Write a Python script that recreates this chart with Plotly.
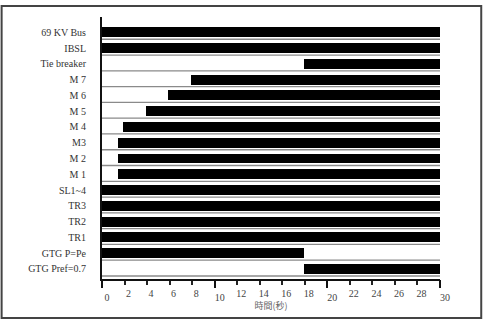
import plotly.graph_objects as go

# ---- data ----
signals = ["69 KV Bus", "IBSL", "Tie breaker", "M 7", "M 6", "M 5", "M 4", "M3",
           "M 2", "M 1", "SL1~4", "TR3", "TR2", "TR1", "GTG P=Pe", "GTG Pref=0.7"]
on_start = [0, 0, 17.9, 7.9, 5.9, 3.9, 1.9, 1.4, 1.4, 1.4, 0, 0, 0, 0, 0, 17.9]
on_end = [30, 30, 30, 30, 30, 30, 30, 30, 30, 30, 30, 30, 30, 30, 17.9, 30]
t_min, t_max = 0, 30
minor_ticks = [2, 4, 6, 8, 12, 14, 16, 18, 22, 24, 26, 28]
major_ticks = [0, 10, 20, 30]
x_title = "時間(秒)"

n = len(signals)
base = [n - 1 - i for i in range(n)]
BAR_H = 0.63

fig = go.Figure()

# baseline (off-level) lines for every row
lx, ly = [], []
for b in base:
    lx += [t_min, t_max, None]
    ly += [b - 0.13, b - 0.13, None]
fig.add_trace(go.Scatter(x=lx, y=ly, mode="lines",
                         line=dict(color="#8a8a8a", width=1.3),
                         hoverinfo="skip", showlegend=False))

# on-state bars
fig.add_trace(go.Bar(
    orientation="h",
    y=base,
    base=on_start,
    x=[e - s for s, e in zip(on_start, on_end)],
    width=BAR_H, offset=0,
    marker=dict(color="black", line=dict(width=0)),
    showlegend=False,
))

# dummy trace for the second x axis (major ticks)
fig.add_trace(go.Scatter(x=[t_min, t_max], y=[base[0], base[0]], xaxis="x2",
                         mode="markers", marker=dict(opacity=0),
                         hoverinfo="skip", showlegend=False))

serif = "Liberation Serif, Times New Roman, serif"

fig.update_layout(
    width=484, height=334,
    margin=dict(l=102, r=44, t=17, b=55),
    paper_bgcolor="white", plot_bgcolor="white",
    bargap=0,
    xaxis=dict(
        range=[t_min, t_max], tickmode="array", tickvals=minor_ticks,
        ticktext=[str(v) for v in minor_ticks],
        ticks="outside", ticklen=4, tickwidth=1.5, tickcolor="#222",
        showline=True, linecolor="#111", linewidth=2,
        showgrid=False, zeroline=False,
        tickfont=dict(family=serif, size=10, color="#444"),
        ticklabelshift=4, ticklabelstandoff=0,
        title=dict(text=x_title, font=dict(family="Noto Sans CJK TC", size=9, color="#666"),
                   standoff=0),
        fixedrange=True,
    ),
    xaxis2=dict(
        range=[t_min, t_max], overlaying="x", side="bottom", anchor="y",
        tickmode="array", tickvals=major_ticks,
        ticktext=[str(v) for v in major_ticks],
        ticks="outside", ticklen=8, tickwidth=2, tickcolor="#111",
        showline=False, showgrid=False, zeroline=False,
        tickfont=dict(family=serif, size=10, color="#444"),
        ticklabelshift=5, ticklabelstandoff=1,
    ),
    yaxis=dict(
        range=[-0.32, n + 0.28],
        tickmode="array", tickvals=[b + BAR_H / 2 for b in base], ticktext=signals,
        ticks="", showline=True, linecolor="#111", linewidth=2,
        showgrid=False, zeroline=False,
        tickfont=dict(family=serif, size=10, color="#333"),
        ticklabelstandoff=12,
        fixedrange=True,
    ),
    shapes=[dict(type="rect", xref="paper", yref="paper",
                 x0=-0.297, x1=1.122, y0=-0.149, y1=1.042,
                 line=dict(color="#444", width=2), fillcolor="rgba(0,0,0,0)")],
)

fig.write_html("out.html")
